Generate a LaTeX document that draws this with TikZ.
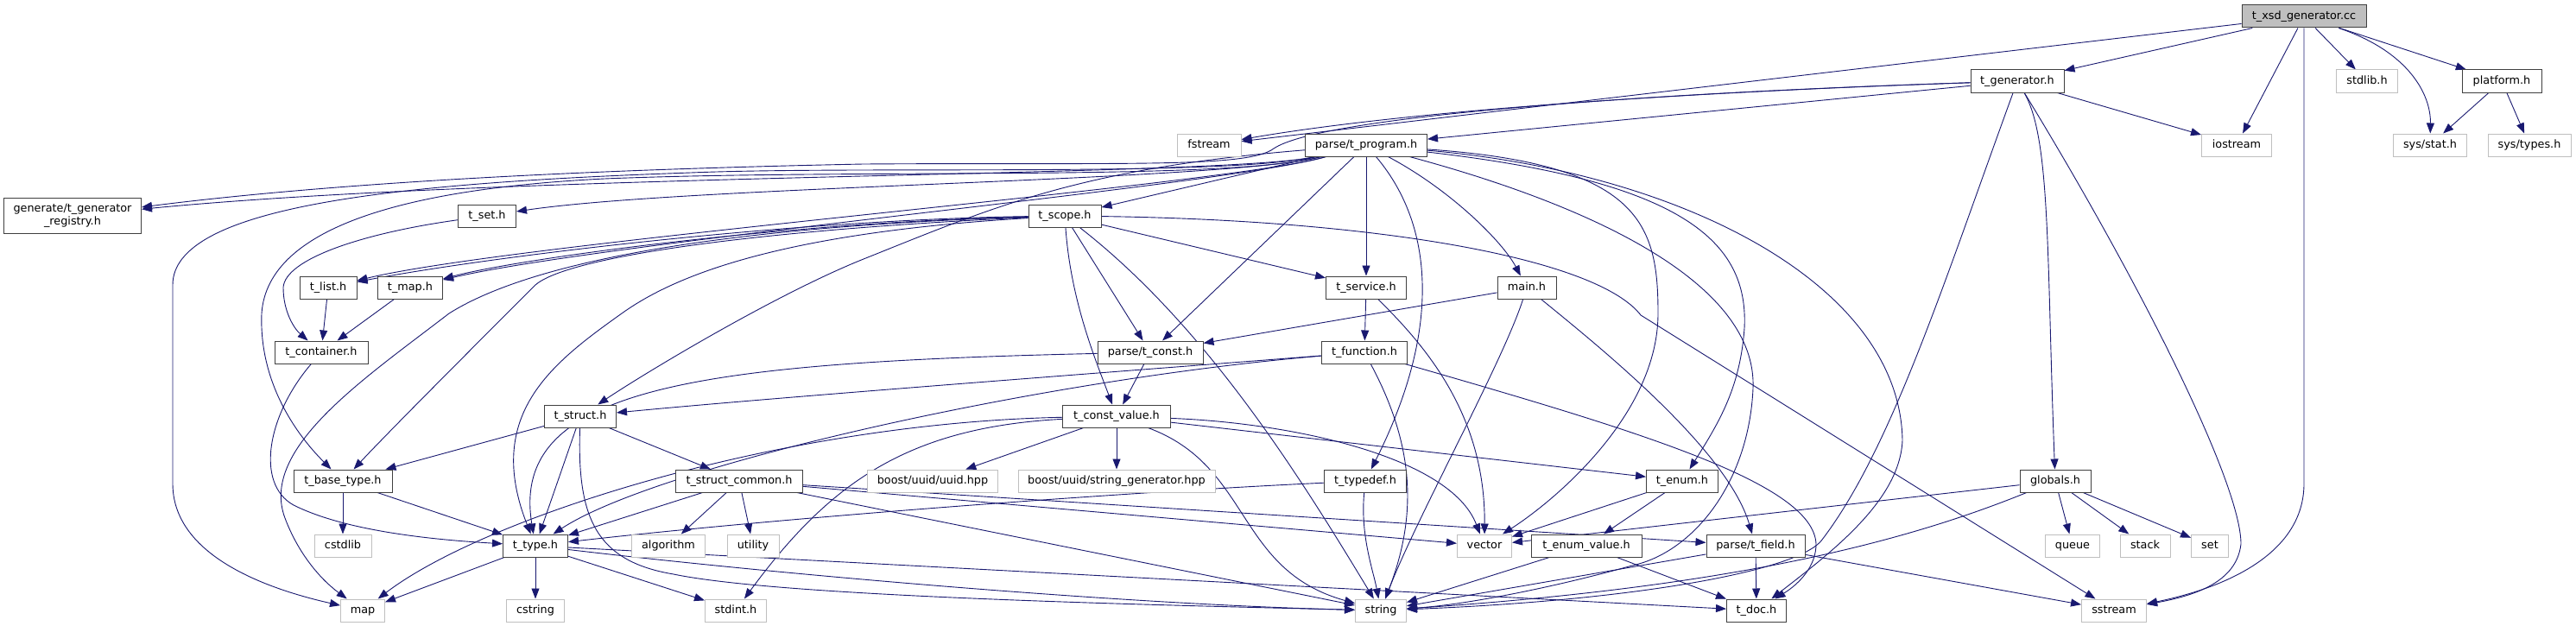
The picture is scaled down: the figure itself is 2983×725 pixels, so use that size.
\documentclass[tikz,border=0pt]{standalone}
\usepackage{fontspec}
\setmainfont{DejaVu Sans}
\usetikzlibrary{arrows.meta,backgrounds}
\definecolor{edgec}{HTML}{191970}
\definecolor{boxb}{HTML}{404040}
\definecolor{sysb}{HTML}{BFBFBF}
\tikzset{
 nd/.style={draw=boxb, fill=white, line width=1pt, inner sep=0pt, minimum height=26pt,
   font=\fontsize{12.8}{15}\selectfont, text height=9.5pt, text depth=2.7pt},
 sysnd/.style={nd, draw=sysb},
 rootnd/.style={nd, fill=sysb},
 ed/.style={draw=edgec, line width=0.9pt, -{Triangle[length=12pt,width=9pt]}},
}
\begin{document}
\begin{tikzpicture}[x=1pt,y=-1pt]
\useasboundingbox (0,0) rectangle (2983,725);
% row 0-1
\node[rootnd, minimum width=144] (cc) at (2668,19) {t\_xsd\_generator.cc};
\node[nd, minimum width=108] (gen) at (2336,94) {t\_generator.h};
\node[sysnd, minimum width=71] (stdlib) at (2741,94) {stdlib.h};
\node[nd, minimum width=92] (platform) at (2897,94) {platform.h};
% row 2
\node[sysnd, minimum width=74] (fstream) at (1400,168) {fstream};
\node[nd, minimum width=141] (program) at (1582,168) {parse/t\_program.h};
\node[sysnd, minimum width=81] (iostream) at (2590,168) {iostream};
\node[sysnd, minimum width=85] (sysstat) at (2814,168) {sys/stat.h};
\node[sysnd, minimum width=96] (systypes) at (2929,168) {sys/types.h};
% row 3
\node[nd, minimum width=159, minimum height=41, align=center, text height=, text depth=] (registry) at (84,250) {generate/t\_generator\\\_registry.h};
\node[nd, minimum width=67] (tset) at (564,250) {t\_set.h};
\node[nd, minimum width=84] (scope) at (1233,250) {t\_scope.h};
% row 4
\node[nd, minimum width=66] (tlist) at (380,333) {t\_list.h};
\node[nd, minimum width=75] (tmap) at (475,333) {t\_map.h};
\node[nd, minimum width=93] (service) at (1582,333) {t\_service.h};
\node[nd, minimum width=68] (mainh) at (1768,333) {main.h};
% row 5
\node[nd, minimum width=108] (container) at (372,408) {t\_container.h};
\node[nd, minimum width=122] (tconst) at (1332,408) {parse/t\_const.h};
\node[nd, minimum width=99] (function) at (1580,408) {t\_function.h};
% row 6
\node[nd, minimum width=83] (struct) at (672,482) {t\_struct.h};
\node[nd, minimum width=125] (cvalue) at (1293,482) {t\_const\_value.h};
% row 7
\node[nd, minimum width=114] (basetype) at (397,557) {t\_base\_type.h};
\node[nd, minimum width=147] (structcommon) at (856,557) {t\_struct\_common.h};
\node[sysnd, minimum width=151] (uuid) at (1080,557) {boost/uuid/uuid.hpp};
\node[sysnd, minimum width=228] (strgen) at (1293,557) {boost/uuid/string\_generator.hpp};
\node[nd, minimum width=95] (typedef) at (1581,557) {t\_typedef.h};
\node[nd, minimum width=83] (enum) at (1948,557) {t\_enum.h};
\node[nd, minimum width=82] (globals) at (2380,557) {globals.h};
% row 8
\node[nd, minimum width=75] (ttype) at (620,632) {t\_type.h};
\node[sysnd, minimum width=66] (cstdlib) at (397,632) {cstdlib};
\node[sysnd, minimum width=85] (algorithm) at (774,632) {algorithm};
\node[sysnd, minimum width=60] (utility) at (872,632) {utility};
\node[sysnd, minimum width=63] (vector) at (1719,632) {vector};
\node[nd, minimum width=128] (enumvalue) at (1837,632) {t\_enum\_value.h};
\node[nd, minimum width=114] (field) at (2033,632) {parse/t\_field.h};
\node[sysnd, minimum width=63] (queue) at (2400,632) {queue};
\node[sysnd, minimum width=58] (stack) at (2484,632) {stack};
\node[sysnd, minimum width=43] (set) at (2559,632) {set};
% row 9
\node[sysnd, minimum width=51] (map) at (420,707) {map};
\node[sysnd, minimum width=67] (cstring) at (620,707) {cstring};
\node[sysnd, minimum width=71] (stdint) at (852,707) {stdint.h};
\node[sysnd, minimum width=59] (string) at (1599,707) {string};
\node[nd, minimum width=69] (doc) at (2034,707) {t\_doc.h};
\node[sysnd, minimum width=75] (sstream) at (2448,707) {sstream};

\begin{scope}[on background layer]
% ---- edges: root
\draw[ed] (cc) -- (fstream);
\draw[ed] (cc) -- (gen);
\draw[ed] (cc) -- (iostream);
\draw[ed] (cc) -- (2668,560) .. controls (2668,640) and (2580,680) .. (sstream);
\draw[ed] (cc) -- (stdlib);
\draw[ed] (cc) .. controls (2790,60) and (2815,110) .. (sysstat);
\draw[ed] (cc) -- (platform);
\draw[ed] (platform) -- (sysstat);
\draw[ed] (platform) -- (systypes);
% ---- t_generator.h
\draw[ed] (gen) .. controls (2000,105) and (1650,125) .. (fstream);
\draw[ed] (gen) .. controls (1900,108) and (1530,135) .. (1475,172) .. controls (1445,195) and (1300,188) .. (1000,190) .. controls (700,196) and (400,210) .. (registry);
\draw[ed] (gen) -- (program);
\draw[ed] (gen) -- (iostream);
\draw[ed] (gen) .. controls (2375,160) and (2370,300) .. (globals);
\draw[ed] (gen) .. controls (2480,330) and (2595,560) .. (2595,630) .. controls (2590,675) and (2540,690) .. (sstream);
\draw[ed] (gen) .. controls (2250,330) and (2190,520) .. (2110,625) .. controls (2085,660) and (1900,695) .. (string);
% ---- parse/t_program.h
\draw[ed] (program) .. controls (1420,205) and (600,200) .. (registry);
\draw[ed] (program) .. controls (1420,205) and (1000,192) .. (800,200) .. controls (450,212) and (200,240) .. (200,330) -- (200,560) .. controls (200,640) and (300,680) .. (map);
\draw[ed] (program) .. controls (1420,210) and (1000,195) .. (700,207) .. controls (480,218) and (310,260) .. (303,363) .. controls (300,440) and (340,500) .. (basetype);
\draw[ed] (program) .. controls (1420,210) and (800,215) .. (tset);
\draw[ed] (program) .. controls (1420,215) and (600,280) .. (tlist);
\draw[ed] (program) .. controls (1420,215) and (700,280) .. (tmap);
\draw[ed] (program) -- (scope);
\draw[ed] (program) .. controls (1250,195) and (1150,240) .. (1000,300) .. controls (900,340) and (750,430) .. (struct);
\draw[ed] (program) -- (service);
\draw[ed] (program) -- (tconst);
\draw[ed] (program) .. controls (1660,260) and (1670,380) .. (typedef);
\draw[ed] (program) .. controls (1680,220) and (1740,280) .. (mainh);
\draw[ed] (program) .. controls (1950,200) and (2200,330) .. (2203,510) .. controls (2200,580) and (2120,640) .. (doc);
\draw[ed] (program) .. controls (1950,210) and (2025,280) .. (2020,380) .. controls (2015,450) and (1990,490) .. (enum);
\draw[ed] (program) .. controls (1900,190) and (1920,260) .. (1920,363) .. controls (1920,480) and (1800,580) .. (vector);
\draw[ed] (program) .. controls (1850,240) and (2035,330) .. (2030,450) .. controls (2025,560) and (1960,640) .. (1890,655) .. controls (1800,680) and (1700,700) .. (string);
% ---- t_scope.h
\draw[ed] (scope) .. controls (900,255) and (550,300) .. (tlist);
\draw[ed] (scope) .. controls (900,258) and (600,300) .. (tmap);
\draw[ed] (scope) .. controls (900,265) and (660,295) .. (620,330) .. controls (560,390) and (450,500) .. (basetype);
\draw[ed] (scope) .. controls (850,262) and (620,300) .. (520,363) .. controls (420,440) and (300,520) .. (330,600) .. controls (345,640) and (370,670) .. (map);
\draw[ed] (scope) .. controls (900,270) and (780,320) .. (720,363) .. controls (640,420) and (560,480) .. (ttype);
\draw[ed] (scope) -- (service);
\draw[ed] (scope) -- (tconst);
\draw[ed] (scope) .. controls (1240,350) and (1270,420) .. (cvalue);
\draw[ed] (scope) .. controls (1400,380) and (1510,560) .. (string);
\draw[ed] (scope) .. controls (1600,255) and (1850,300) .. (1900,365) -- (sstream);
% ---- containers
\draw[ed] (tset) .. controls (420,270) and (330,300) .. (328,333) .. controls (328,360) and (340,380) .. (container);
\draw[ed] (tlist) -- (container);
\draw[ed] (tmap) -- (container);
\draw[ed] (container) .. controls (310,480) and (295,560) .. (340,585) .. controls (400,615) and (500,625) .. (ttype);
% ---- service, main, function
\draw[ed] (service) -- (function);
\draw[ed] (service) .. controls (1650,400) and (1720,480) .. (vector);
\draw[ed] (mainh) -- (tconst);
\draw[ed] (mainh) .. controls (1740,420) and (1640,600) .. (string);
\draw[ed] (mainh) .. controls (1850,400) and (2000,520) .. (field);
\draw[ed] (function) .. controls (1640,520) and (1640,600) .. (string);
\draw[ed] (function) .. controls (1200,440) and (760,540) .. (ttype);
\draw[ed] (function) .. controls (1300,430) and (900,460) .. (struct);
\draw[ed] (function) .. controls (1900,500) and (2100,560) .. (2103,630) .. controls (2103,655) and (2085,675) .. (doc);
% ---- t_const, t_struct
\draw[ed] (tconst) .. controls (800,420) and (590,450) .. (ttype);
\draw[ed] (tconst) -- (cvalue);
\draw[ed] (struct) -- (basetype);
\draw[ed] (struct) -- (ttype);
\draw[ed] (struct) -- (structcommon);
\draw[ed] (struct) .. controls (668,600) and (690,650) .. (780,665) .. controls (900,690) and (1300,700) .. (string);
% ---- t_const_value
\draw[ed] (cvalue) -- (uuid);
\draw[ed] (cvalue) -- (strgen);
\draw[ed] (cvalue) -- (enum);
\draw[ed] (cvalue) .. controls (1500,490) and (1680,530) .. (vector);
\draw[ed] (cvalue) .. controls (1450,540) and (1430,660) .. (string);
\draw[ed] (cvalue) .. controls (1050,495) and (960,560) .. (stdint);
\draw[ed] (cvalue) .. controls (900,490) and (560,600) .. (map);
% ---- base type, struct common
\draw[ed] (basetype) -- (cstdlib);
\draw[ed] (basetype) -- (ttype);
\draw[ed] (structcommon) -- (ttype);
\draw[ed] (structcommon) -- (algorithm);
\draw[ed] (structcommon) -- (utility);
\draw[ed] (structcommon) -- (vector);
\draw[ed] (structcommon) -- (field);
\draw[ed] (structcommon) -- (string);
% ---- t_type
\draw[ed] (ttype) -- (map);
\draw[ed] (ttype) -- (cstring);
\draw[ed] (ttype) -- (stdint);
\draw[ed] (ttype) .. controls (900,665) and (1300,700) .. (string);
\draw[ed] (ttype) -- (doc);
% ---- typedef, enum, field, globals
\draw[ed] (typedef) .. controls (1300,570) and (900,600) .. (ttype);
\draw[ed] (typedef) .. controls (1575,620) and (1590,660) .. (string);
\draw[ed] (enum) -- (vector);
\draw[ed] (enum) -- (enumvalue);
\draw[ed] (enumvalue) -- (string);
\draw[ed] (enumvalue) -- (doc);
\draw[ed] (field) -- (doc);
\draw[ed] (field) -- (string);
\draw[ed] (field) -- (sstream);
\draw[ed] (globals) -- (vector);
\draw[ed] (globals) .. controls (2200,630) and (2000,680) .. (string);
\draw[ed] (globals) -- (queue);
\draw[ed] (globals) -- (stack);
\draw[ed] (globals) -- (set);
\end{scope}
\end{tikzpicture}
\end{document}
